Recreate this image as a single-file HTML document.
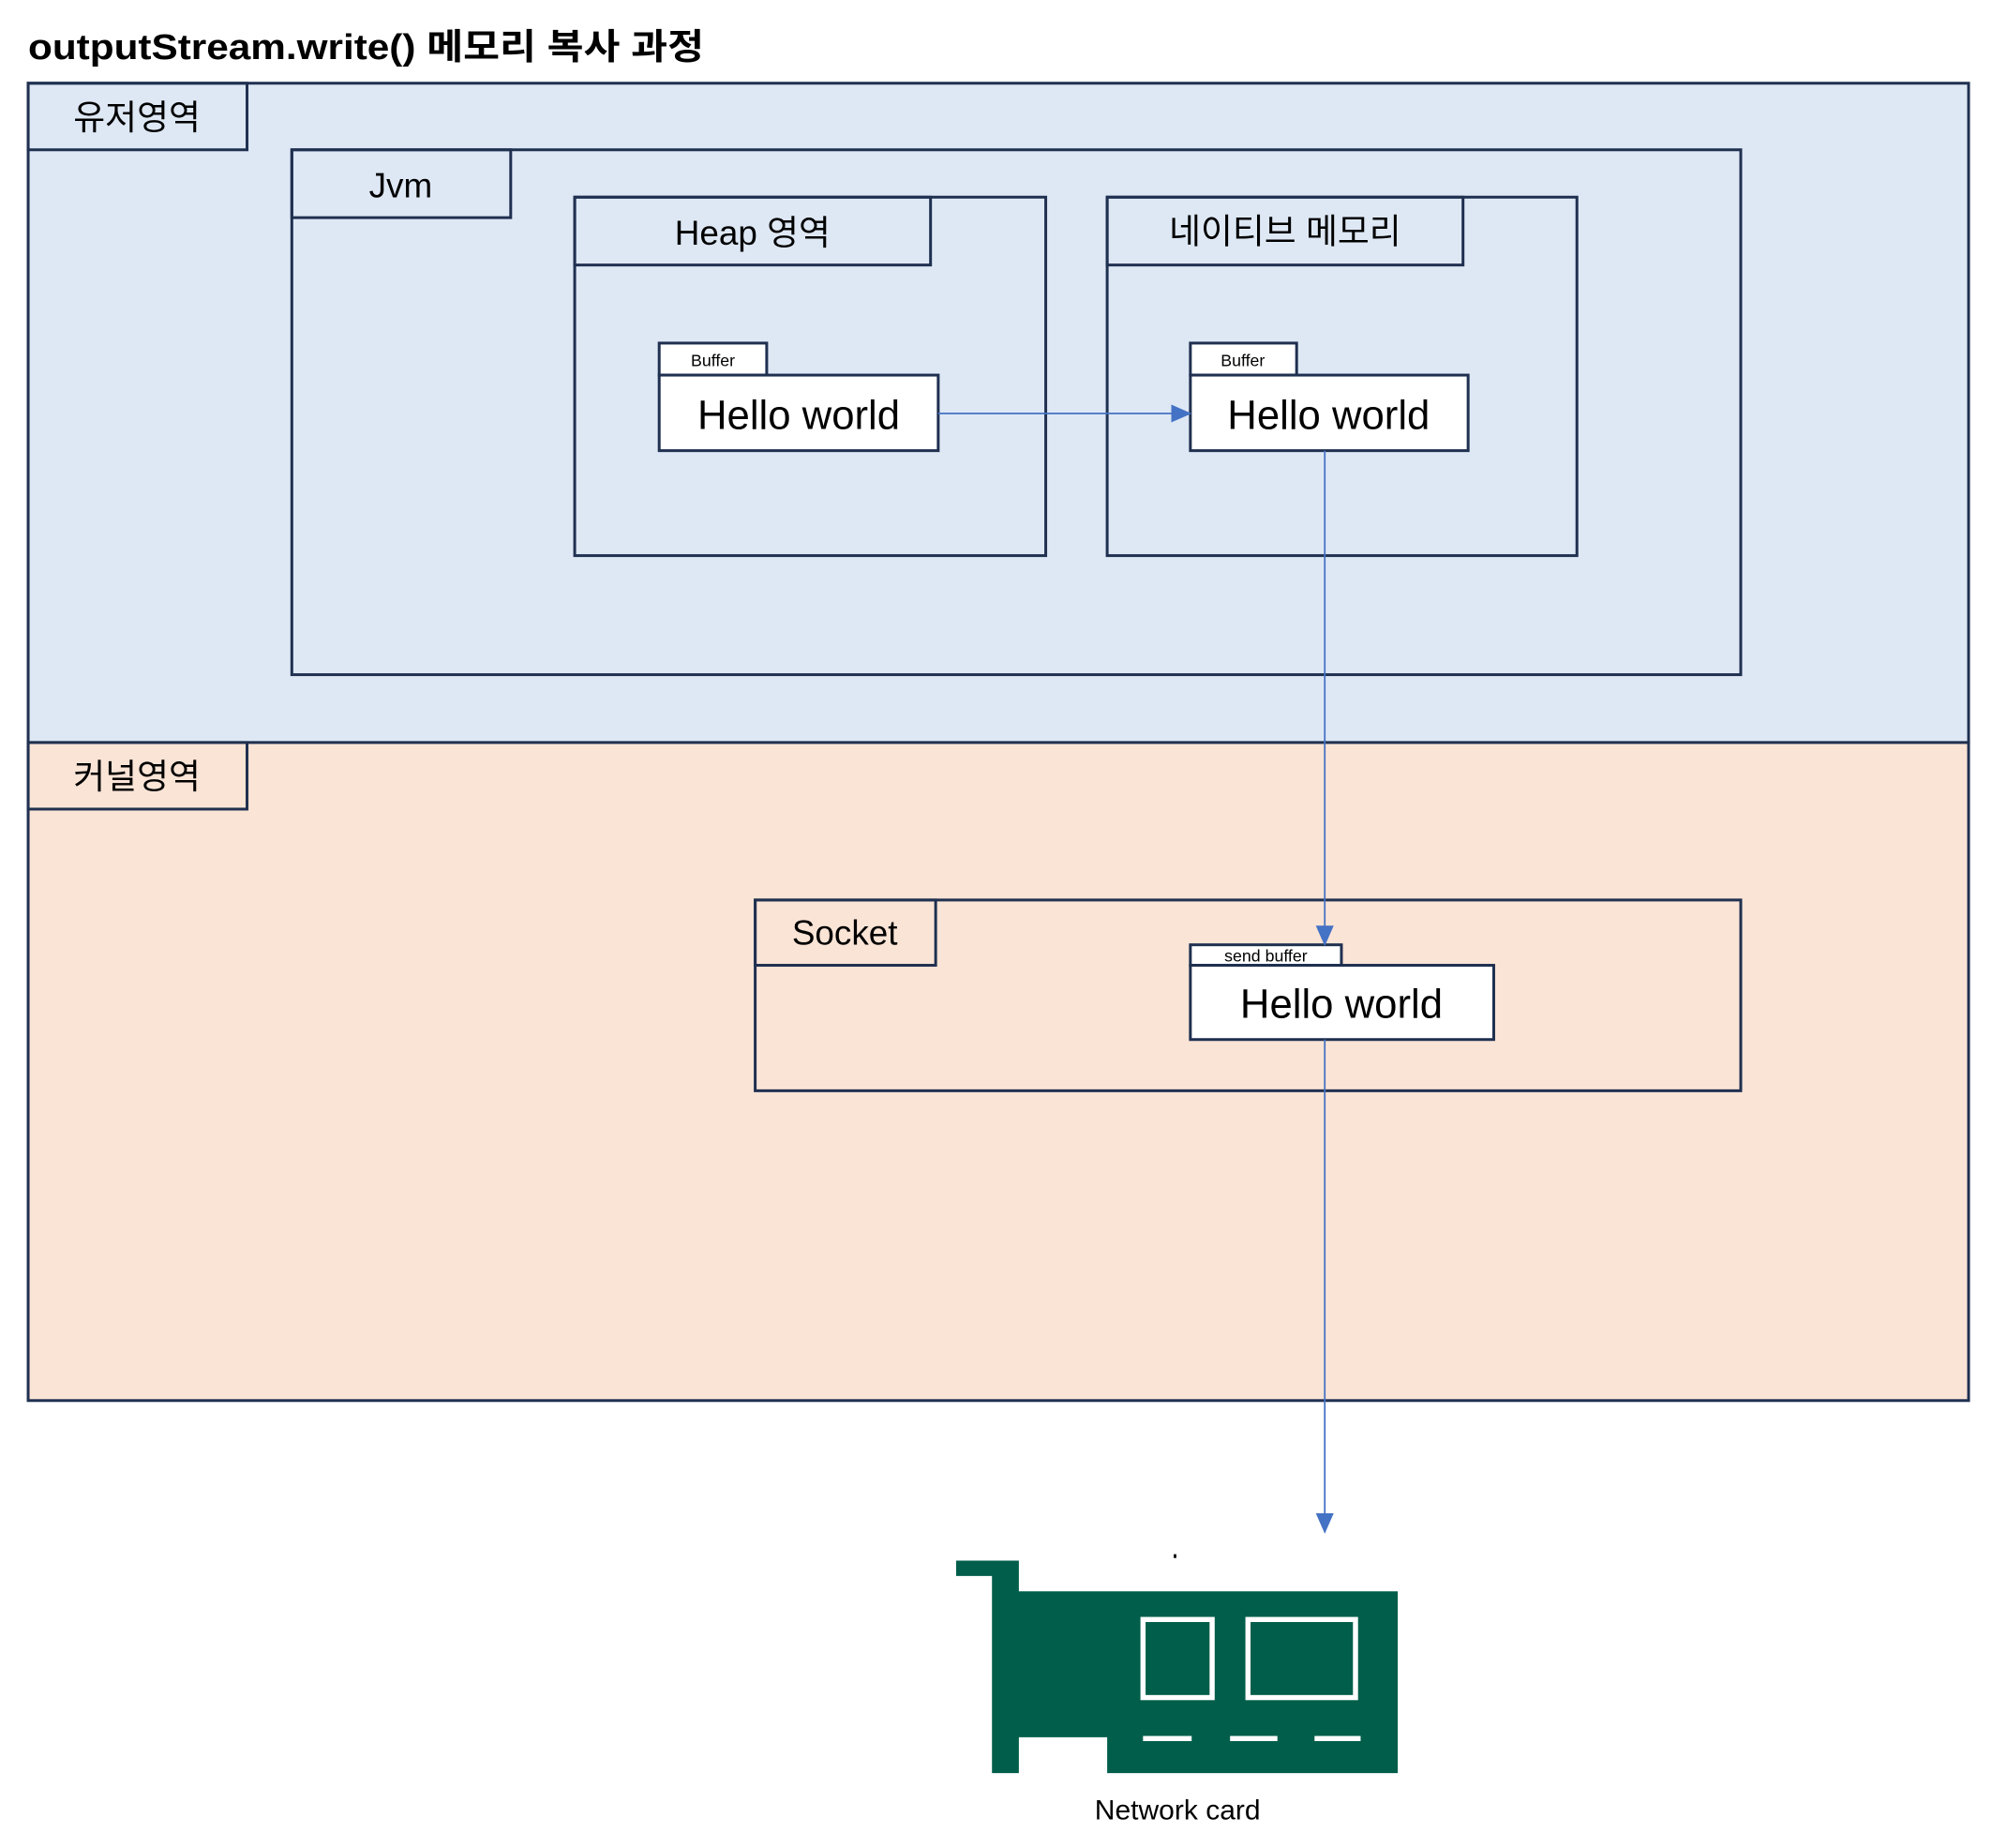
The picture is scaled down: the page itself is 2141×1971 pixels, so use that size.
<!DOCTYPE html>
<html><head><meta charset="utf-8"><style>
html,body{margin:0;padding:0;background:#fff;}
svg{display:block;}
text{font-family:"Liberation Sans","Noto Sans CJK KR",sans-serif;fill:#000;}
</style></head><body>
<svg width="2141" height="1971" viewBox="0 0 1568 1443.5" preserveAspectRatio="none" xmlns="http://www.w3.org/2000/svg">
<defs>
<marker id="av" viewBox="0 0 16 16" markerWidth="16" markerHeight="16" refX="15" refY="8" orient="auto" markerUnits="userSpaceOnUse"><path d="M0,1 L16,8 L0,15 Z" fill="#4472c4"/></marker></defs>
<text x="22" y="46" font-size="28" font-weight="bold" textLength="528" lengthAdjust="spacingAndGlyphs">outputStream.write() 메모리 복사 과정</text>
<g stroke="#1f3050" stroke-width="2.2">
<rect x="22" y="65" width="1516" height="515" fill="#dee8f5"/>
<rect x="22" y="580" width="1516" height="514" fill="#fae4d6"/>
<rect x="22" y="65" width="171" height="52" fill="none"/>
<rect x="22" y="580" width="171" height="52" fill="none"/>
<rect x="228" y="117" width="1132" height="410" fill="none"/>
<rect x="228" y="117" width="171" height="53" fill="none"/>
<rect x="449" y="154" width="368" height="280" fill="none"/>
<rect x="449" y="154" width="278" height="53" fill="none"/>
<rect x="865" y="154" width="367" height="280" fill="none"/>
<rect x="865" y="154" width="278" height="53" fill="none"/>
<rect x="515" y="268" width="84" height="25" fill="#fff"/>
<rect x="515" y="293" width="218" height="59" fill="#fff"/>
<rect x="930" y="268" width="83" height="25" fill="#fff"/>
<rect x="930" y="293" width="217" height="59" fill="#fff"/>
<rect x="590" y="703" width="770" height="149" fill="none"/>
<rect x="590" y="703" width="141" height="51" fill="none"/>
<rect x="930" y="738" width="118" height="16" fill="#fff"/>
<rect x="930" y="754" width="237" height="58" fill="#fff"/>
</g>
<g font-size="27" text-anchor="middle">
<text x="107" y="101">유저영역</text>
<text x="107" y="616">커널영역</text>
<text x="313" y="154">Jvm</text>
<text x="588" y="191">Heap 영역</text>
<text x="1004" y="190">네이티브 메모리</text>
<text x="660" y="738">Socket</text>
</g>
<g font-size="13" text-anchor="middle">
<text x="557" y="286">Buffer</text>
<text x="971" y="286">Buffer</text>
<text x="989" y="751">send buffer</text>
</g>
<g font-size="32" text-anchor="middle">
<text x="624" y="335">Hello world</text>
<text x="1038" y="335">Hello world</text>
<text x="1048" y="795">Hello world</text>
</g>
<g stroke="#4472c4" stroke-width="1.3" fill="none">
<line x1="733" y1="323" x2="930" y2="323" marker-end="url(#av)"/>
<line x1="1035" y1="352" x2="1035" y2="738" marker-end="url(#av)"/>
<line x1="1035" y1="812" x2="1035" y2="1197" marker-end="url(#av)"/>
</g>
<path d="M747,1219 H796 V1243 H1092 V1385 H865 V1357 H796 V1385 H775 V1231 H747 Z" fill="#005e4a"/>
<g stroke="#fff" stroke-width="4" fill="none">
<rect x="893" y="1265" width="54" height="61"/>
<rect x="975" y="1265" width="84" height="61"/>
<line x1="893" y1="1358" x2="931" y2="1358"/>
<line x1="961" y1="1358" x2="998" y2="1358"/>
<line x1="1027" y1="1358" x2="1063" y2="1358"/>
</g>
<rect x="917" y="1214" width="2" height="3" fill="#000"/>
<text x="920" y="1421" font-size="22" text-anchor="middle">Network card</text>
</svg>
</body></html>
